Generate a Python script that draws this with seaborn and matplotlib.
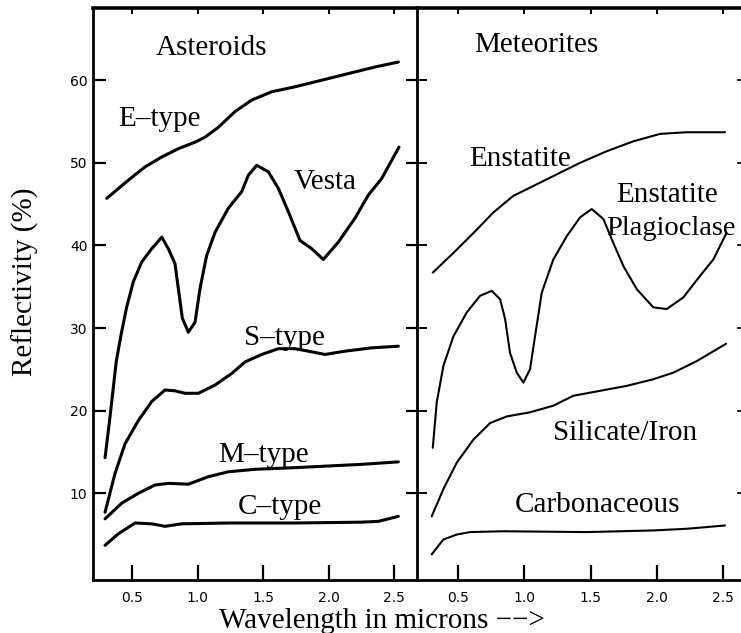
import numpy as np
import pandas as pd
import matplotlib
matplotlib.use("Agg")
import matplotlib.pyplot as plt
import seaborn as sns

# ---------------- data ----------------
x_ticks = [0.5, 1.0, 1.5, 2.0, 2.5]
x_tick_labels = ["0.5", "1.0", "1.5", "2.0", "2.5"]
y_ticks = [10, 20, 30, 40, 50, 60]
y_tick_labels = ["10", "20", "30", "40", "50", "60"]

# Asteroids panel
etype_x = [0.307, 0.472, 0.599, 0.726, 0.853, 0.981, 1.057, 1.159, 1.286, 1.414,
           1.566, 1.744, 1.948, 2.151, 2.355, 2.533]
etype_y = [45.7, 47.9, 49.5, 50.7, 51.7, 52.5, 53.1, 54.3, 56.2, 57.6,
           58.6, 59.2, 60.0, 60.8, 61.6, 62.2]

vesta_x = [0.294, 0.33, 0.38, 0.42, 0.46, 0.51, 0.574, 0.65, 0.727, 0.777, 0.828,
           0.853, 0.884, 0.930, 0.981, 1.019, 1.070, 1.134, 1.235, 1.337, 1.388,
           1.452, 1.541, 1.617, 1.693, 1.782, 1.872, 1.960, 2.075, 2.202, 2.304,
           2.406, 2.538]
vesta_y = [14.3, 19.0, 26.0, 29.5, 32.6, 35.6, 38.0, 39.6, 41.0, 39.6, 37.8,
           34.8, 31.2, 29.5, 30.7, 34.8, 38.8, 41.6, 44.5, 46.5, 48.5,
           49.7, 48.9, 46.9, 44.1, 40.6, 39.6, 38.3, 40.4, 43.3, 46.1,
           48.1, 51.9]

stype_x = [0.294, 0.370, 0.447, 0.548, 0.650, 0.752, 0.828, 0.905, 1.006, 1.134,
           1.261, 1.363, 1.490, 1.617, 1.744, 1.846, 1.973, 2.126, 2.330, 2.533]
stype_y = [7.7, 12.4, 16.0, 18.8, 21.1, 22.5, 22.4, 22.1, 22.1, 23.1,
           24.5, 25.9, 26.8, 27.5, 27.5, 27.2, 26.8, 27.2, 27.6, 27.8]

mtype_x = [0.294, 0.421, 0.548, 0.676, 0.777, 0.930, 1.082, 1.235, 1.439, 1.744,
           1.998, 2.253, 2.533]
mtype_y = [6.9, 8.8, 10.0, 11.0, 11.2, 11.1, 12.0, 12.6, 12.9, 13.1,
           13.3, 13.5, 13.8]

ctype_x = [0.294, 0.396, 0.523, 0.650, 0.752, 0.879, 1.235, 1.744, 2.253, 2.380, 2.533]
ctype_y = [3.7, 5.1, 6.4, 6.3, 6.0, 6.3, 6.4, 6.4, 6.5, 6.6, 7.2]

# Meteorites panel
enst_x = [0.309, 0.465, 0.616, 0.767, 0.917, 1.094, 1.270, 1.421, 1.622, 1.823,
          2.025, 2.226, 2.515]
enst_y = [36.7, 39.1, 41.5, 44.0, 46.0, 47.4, 48.8, 50.0, 51.4, 52.6,
          53.5, 53.7, 53.7]

enpl_x = [0.309, 0.339, 0.389, 0.465, 0.566, 0.666, 0.754, 0.817, 0.855, 0.892,
          0.943, 0.993, 1.043, 1.081, 1.132, 1.219, 1.320, 1.421, 1.509, 1.597,
          1.672, 1.748, 1.849, 1.974, 2.075, 2.200, 2.326, 2.427, 2.523]
enpl_y = [15.5, 21.0, 25.4, 29.0, 31.9, 33.9, 34.5, 33.5, 31.1, 27.0,
          24.6, 23.4, 25.0, 29.0, 34.3, 38.3, 41.1, 43.4, 44.4, 43.2,
          40.3, 37.5, 34.7, 32.5, 32.3, 33.7, 36.3, 38.3, 41.4]

sili_x = [0.301, 0.389, 0.490, 0.616, 0.742, 0.868, 1.043, 1.219, 1.370, 1.572,
          1.773, 1.974, 2.125, 2.302, 2.523]
sili_y = [7.2, 10.5, 13.7, 16.5, 18.5, 19.3, 19.8, 20.6, 21.8, 22.4,
          23.0, 23.8, 24.6, 26.0, 28.1]

carb_x = [0.301, 0.389, 0.490, 0.591, 0.842, 1.471, 1.974, 2.226, 2.515]
carb_y = [2.6, 4.4, 5.0, 5.3, 5.4, 5.3, 5.5, 5.7, 6.1]

asteroid_series = {"E–type": (etype_x, etype_y), "Vesta": (vesta_x, vesta_y),
                   "S–type": (stype_x, stype_y), "M–type": (mtype_x, mtype_y),
                   "C–type": (ctype_x, ctype_y)}
meteorite_series = {"Enstatite": (enst_x, enst_y),
                    "Enstatite Plagioclase": (enpl_x, enpl_y),
                    "Silicate/Iron": (sili_x, sili_y),
                    "Carbonaceous": (carb_x, carb_y)}

def to_frame(series):
    rows = []
    for name, (xs, ys) in series.items():
        for xv, yv in zip(xs, ys):
            rows.append({"series": name, "wavelength": xv, "reflectivity": yv})
    return pd.DataFrame(rows)

df_ast = to_frame(asteroid_series)
df_met = to_frame(meteorite_series)

# ---------------- figure ----------------
sns.set_theme(style="white")
plt.rcParams["font.family"] = ["DejaVu Sans"]
SERIF = ["Liberation Serif", "DejaVu Serif"]

W, H = 741, 633
fig = plt.figure(figsize=(W / 100, H / 100), dpi=100)
fig.patch.set_facecolor("white")

bottom = 1 - 580 / H
top = 1 - 7.5 / H
ax1 = fig.add_axes([93 / W, bottom, (418 - 93) / W, top - bottom])
ax2 = fig.add_axes([417 / W, bottom, (745 - 417) / W, top - bottom])

ylim = (-0.5, 68.8)

sns.lineplot(data=df_ast, x="wavelength", y="reflectivity", units="series",
             estimator=None, sort=False, color="black", lw=2.2, ax=ax1)
sns.lineplot(data=df_met, x="wavelength", y="reflectivity", units="series",
             estimator=None, sort=False, color="black", lw=1.5, ax=ax2)
for ax in (ax1, ax2):
    for ln in ax.lines:
        ln.set_solid_joinstyle("round")
        ln.set_solid_capstyle("round")

ax1.set_xlim(0.202, 2.683)
ax2.set_xlim(0.19, 2.666)
for ax in (ax1, ax2):
    ax.set_ylim(*ylim)
    ax.set_xlabel("")
    ax.set_ylabel("")
    ax.set_facecolor("white")
    ax.set_xticks(x_ticks)
    ax.set_xticklabels(x_tick_labels)
    ax.set_yticks(y_ticks)
    for s in ax.spines.values():
        s.set_color("black")
        s.set_linewidth(2.0)
    ax.tick_params(axis="x", direction="in", length=11, width=1.6,
                   labelsize=10, pad=8, colors="black", bottom=True, top=False)
    sec = ax.secondary_xaxis("top")
    sec.set_xticks(x_ticks)
    sec.tick_params(axis="x", direction="in", length=5, width=1.4,
                    labeltop=False, colors="black")
    sec.spines["top"].set_visible(False)

ax1.spines["top"].set_linewidth(2.6)
ax2.spines["top"].set_linewidth(2.6)

ax1.set_yticklabels(y_tick_labels)
ax1.tick_params(axis="y", direction="in", length=9, width=1.6, labelsize=10,
                pad=4, left=True, right=True, colors="black")
ax2.set_yticklabels([])
ax2.tick_params(axis="y", direction="inout", length=14, width=1.4,
                left=True, right=False, labelleft=False, colors="black")
sec_r = ax2.secondary_yaxis("right")
sec_r.set_yticks(y_ticks)
sec_r.tick_params(axis="y", direction="in", length=6, width=1.2,
                  labelright=False, colors="black")

# ---------------- text labels ----------------
FS = 21
def label(ax, x, y, s, ha="center", fs=FS):
    ax.text(x, y, s, ha=ha, va="baseline", fontsize=fs, family=SERIF,
            color="black", clip_on=False)

label(ax1, 1.11, 63.0, "Asteroids")
label(ax1, 0.71, 54.4, "E–type")
label(ax1, 1.977, 46.8, "Vesta")
label(ax1, 1.66, 27.9, "S–type")
label(ax1, 1.50, 13.8, "M–type")
label(ax1, 1.63, 7.45, "C–type")

label(ax2, 1.09, 63.4, "Meteorites")
label(ax2, 0.966, 49.6, "Enstatite")
label(ax2, 1.69, 45.3, "Enstatite", ha="left")
label(ax2, 1.62, 41.3, "Plagioclase", ha="left", fs=20.5)
label(ax2, 1.76, 16.5, "Silicate/Iron")
label(ax2, 1.55, 7.7, "Carbonaceous")

fig.text(25 / W, 1 - 282 / H, "Reflectivity (%)", rotation=90, ha="center",
         va="center", fontsize=FS, family=SERIF, color="black")
fig.text(382 / W, 1 - 628 / H, "Wavelength in microns −−>", ha="center",
         va="baseline", fontsize=FS, family=SERIF, color="black")

fig.savefig("out.png", dpi=100, facecolor="white")
